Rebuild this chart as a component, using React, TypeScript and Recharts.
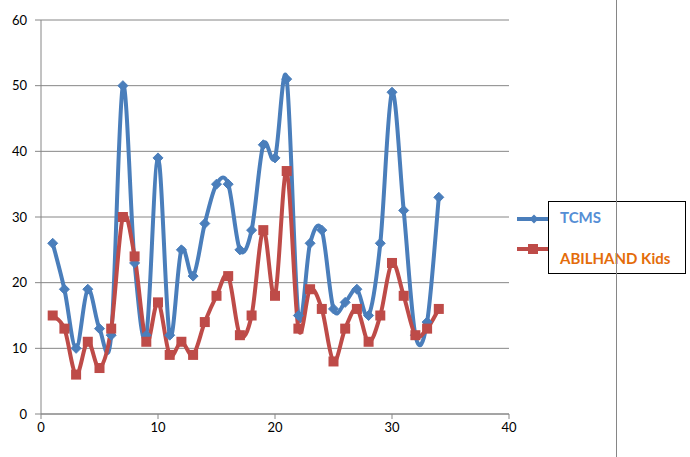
import React from 'react';
import { LineChart, Line, XAxis, YAxis, CartesianGrid } from 'recharts';

const xs = [1, 2, 3, 4, 5, 6, 7, 8, 9, 10, 11, 12, 13, 14, 15, 16, 17, 18, 19, 20, 21, 22, 23, 24, 25, 26, 27, 28, 29, 30, 31, 32, 33, 34];
const tcms = [26, 19, 10, 19, 13, 12, 50, 23, 12, 39, 12, 25, 21, 29, 35, 35, 25, 28, 41, 39, 51, 15, 26, 28, 16, 17, 19, 15, 26, 49, 31, 12, 14, 33];
const abilhand = [15, 13, 6, 11, 7, 13, 30, 24, 11, 17, 9, 11, 9, 14, 18, 21, 12, 15, 28, 18, 37, 13, 19, 16, 8, 13, 16, 11, 15, 23, 18, 12, 13, 16];
const xTicks = [0, 10, 20, 30, 40];
const yTicks = [0, 10, 20, 30, 40, 50, 60];

const BLUE = '#4A7EBB';
const RED = '#BE4B48';
const GRID = '#868686';
const FONT = 'Lato, "Liberation Sans", sans-serif';

const data = xs.map((x, i) => ({ x, tcms: tcms[i], abilhand: abilhand[i] }));

// excel-like smoothed line (catmull-rom style bezier)
const smooth = (context: any) => {
  let pts: number[][] = [];
  return {
    areaStart() {},
    areaEnd() {},
    lineStart() { pts = []; },
    point(x: number, y: number) { pts.push([+x, +y]); },
    lineEnd() {
      const n = pts.length;
      if (!n) return;
      context.moveTo(pts[0][0], pts[0][1]);
      for (let i = 0; i < n - 1; i++) {
        const p0 = pts[Math.max(i - 1, 0)];
        const p1 = pts[i];
        const p2 = pts[i + 1];
        const p3 = pts[Math.min(i + 2, n - 1)];
        context.bezierCurveTo(
          p1[0] + (p2[0] - p0[0]) / 6, p1[1] + (p2[1] - p0[1]) / 6,
          p2[0] - (p3[0] - p1[0]) / 6, p2[1] - (p3[1] - p1[1]) / 6,
          p2[0], p2[1]
        );
      }
    },
  };
};

const Diamond = (props: any) => {
  const { cx, cy, key } = props;
  const r = 5;
  return <path key={key} d={`M${cx},${cy - r}L${cx + r},${cy}L${cx},${cy + r}L${cx - r},${cy}Z`} fill={BLUE} stroke={BLUE} strokeWidth={1} />;
};

const Square = (props: any) => {
  const { cx, cy, key } = props;
  const s = 10;
  return <rect key={key} x={cx - s / 2} y={cy - s / 2} width={s} height={s} fill={RED} />;
};

const LegendBox = () => (
  <div style={{ position: 'absolute', left: 517, top: 201, width: 170, height: 73, fontFamily: FONT }}>
    <svg width={32} height={73} style={{ position: 'absolute', left: 0, top: 0 }}>
      <line x1={0} y1={18} x2={32} y2={18} stroke={BLUE} strokeWidth={4} />
      <path d="M17,13.5L21.5,18L17,22.5L12.5,18Z" fill={BLUE} />
      <line x1={0} y1={48} x2={32} y2={48} stroke={RED} strokeWidth={4} />
      <rect x={11} y={43} width={10} height={10} fill={RED} />
    </svg>
    <div style={{ position: 'absolute', left: 31, top: 0, width: 136, height: 71, border: '1px solid #000', background: '#fff' }}>
      <div style={{ position: 'absolute', left: 11, top: 6, fontSize: 15, fontWeight: 700, color: '#558ED5' }}>TCMS</div>
      <div style={{ position: 'absolute', left: 11, top: 47, fontSize: 15, fontWeight: 700, color: '#E46C0A', whiteSpace: 'nowrap' }}>ABILHAND Kids</div>
    </div>
  </div>
);

export default function App() {
  return (
    <div style={{ position: 'absolute', left: 0, top: 0, width: 690, height: 457, background: '#fff', fontFamily: FONT }}>
      <LineChart width={690} height={457} data={data} margin={{ top: 20, right: 181, bottom: 0, left: 8 }}>
        <CartesianGrid horizontal vertical={false} stroke={GRID} strokeWidth={1} />
        <XAxis
          dataKey="x"
          type="number"
          domain={[0, 40]}
          ticks={xTicks}
          height={43}
          stroke={GRID}
          tickLine={{ stroke: GRID }}
          tickSize={5}
          tick={{ fill: '#000', fontSize: 13, fontFamily: FONT }}
          tickMargin={4}
        />
        <YAxis
          type="number"
          domain={[0, 60]}
          ticks={yTicks}
          width={33}
          stroke={GRID}
          tickLine={{ stroke: GRID }}
          tickSize={6}
          tick={{ fill: '#000', fontSize: 13, fontFamily: FONT }}
          tickMargin={8}
        />
        <Line dataKey="tcms" name="TCMS" type={smooth as any} stroke={BLUE} strokeWidth={4} dot={Diamond} isAnimationActive={false} />
        <Line dataKey="abilhand" name="ABILHAND Kids" type={smooth as any} stroke={RED} strokeWidth={4} dot={Square} isAnimationActive={false} />
      </LineChart>
      <LegendBox />
      <div style={{ position: 'absolute', left: 616, top: 0, width: 1, height: 457, background: GRID }} />
    </div>
  );
}
